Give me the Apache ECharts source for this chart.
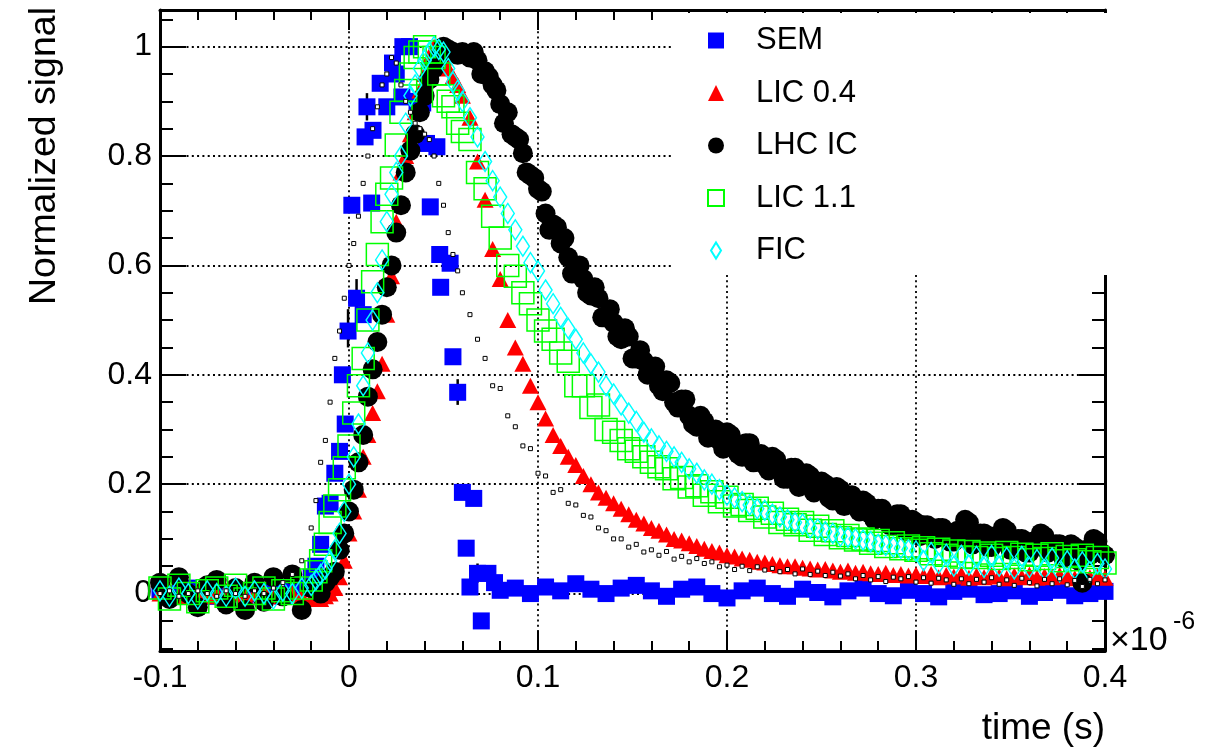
<!DOCTYPE html>
<html><head><meta charset="utf-8">
<script src="https://cdn.jsdelivr.net/npm/echarts@6/dist/echarts.min.js"></script>
<style>html,body{margin:0;padding:0;background:#fff}#c{width:1217px;height:750px}</style>
</head><body><div id="c"></div>
<script>
// shared sampling times (units of 1e-6 s)
const time = [
-0.1,-0.095,-0.09,-0.085,-0.08,-0.075,-0.07,-0.065,-0.06,-0.055,-0.05,-0.045,-0.04,-0.035,-0.03,-0.025,-0.02,
-0.0175,-0.015,-0.0125,-0.01,-0.0075,-0.005,-0.0025,0,0.0025,0.005,0.0075,0.01,0.0125,0.015,0.0175,0.02,
0.0225,0.025,0.0275,0.03,0.0325,0.035,0.0375,0.04,0.0425,0.045,0.0475,0.05,0.0525,0.055,0.0575,0.06,
0.064,0.068,0.072,0.076,0.08,0.084,0.088,0.092,0.096,0.1,
0.104,0.108,0.112,0.116,0.12,0.124,0.128,0.132,0.136,0.14,
0.144,0.148,0.152,0.156,0.16,0.164,0.168,0.172,0.176,0.18,
0.184,0.188,0.192,0.196,0.2,0.204,0.208,0.212,0.216,0.22,
0.224,0.228,0.232,0.236,0.24,0.244,0.248,0.252,0.256,0.26,
0.264,0.268,0.272,0.276,0.28,0.284,0.288,0.292,0.296,0.3,
0.304,0.308,0.312,0.316,0.32,0.324,0.328,0.332,0.336,0.34,
0.344,0.348,0.352,0.356,0.36,0.364,0.368,0.372,0.376,0.38,
0.384,0.388,0.392,0.396,0.4];

const lhcIC = [
0.02,-0.01,0.03,0.0,-0.025,0.015,0.025,-0.02,0.01,-0.03,0.02,-0.015,0.03,-0.005,0.035,-0.03,0.01,
0.01,0.0,0.02,0.03,0.04,0.08,0.11,0.15,0.19,0.24,0.29,0.36,0.41,0.46,0.51,0.56,
0.60,0.66,0.71,0.77,0.81,0.84,0.88,0.91,0.94,0.96,0.98,1.0,0.995,0.99,0.985,0.99,
0.98,0.975,0.955,0.93,0.895,0.88,0.835,0.805,0.765,0.74,
0.695,0.675,0.64,0.615,0.595,0.575,0.545,0.54,0.505,0.495,
0.465,0.47,0.43,0.425,0.41,0.38,0.39,0.35,0.355,0.325,
0.305,0.315,0.29,0.28,0.295,0.265,0.25,0.275,0.245,0.235,
0.25,0.225,0.21,0.23,0.2,0.215,0.195,0.2,0.17,0.19,
0.175,0.16,0.17,0.145,0.155,0.14,0.125,0.145,0.115,0.13,
0.125,0.105,0.12,0.11,0.095,0.115,0.13,0.095,0.11,0.085,
0.105,0.115,0.085,0.1,0.075,0.095,0.105,0.08,0.09,0.07,
0.085,0.02,0.07,0.095,0.07];

// extra LHC IC samples in between (denser acquisition in the decay)
const timeMid = [
0.066,0.07,0.074,0.078,0.082,0.086,0.09,0.094,0.098,0.102,
0.106,0.11,0.114,0.118,0.122,0.126,0.13,0.134,0.138,0.142,
0.146,0.15,0.154,0.158,0.162,0.166,0.17,0.174,0.178,0.182,
0.186,0.19,0.194,0.198,0.202,0.206,0.21,0.214,0.218,0.222,
0.226,0.23,0.234,0.238,0.242,0.246,0.25,0.254,0.258,0.262,
0.266,0.27,0.274,0.278,0.282,0.286,0.29,0.294,0.298,0.302,
0.306,0.31,0.314,0.318,0.322,0.326,0.33,0.334,0.338,0.342,
0.346,0.35,0.354,0.358,0.362,0.366,0.37,0.374,0.378,0.382,
0.386,0.39,0.394,0.398];
const lhcICMid = [
0.99,0.95,0.945,0.92,0.86,0.84,0.83,0.77,0.76,0.735,
0.665,0.67,0.65,0.585,0.6,0.55,0.56,0.505,0.52,0.47,
0.485,0.43,0.445,0.40,0.415,0.37,0.385,0.34,0.355,0.31,
0.325,0.285,0.30,0.265,0.29,0.255,0.275,0.24,0.255,0.225,
0.245,0.21,0.23,0.195,0.22,0.185,0.205,0.175,0.195,0.16,
0.18,0.15,0.165,0.135,0.155,0.125,0.145,0.115,0.135,0.105,
0.125,0.1,0.12,0.095,0.115,0.135,0.09,0.11,0.085,0.105,
0.12,0.08,0.1,0.075,0.095,0.11,0.075,0.09,0.065,0.09,
0.06,0.08,0.1,0.075];

const lic04 = [
0.0,0.005,-0.005,0.0,0.005,-0.005,0.0,0.005,0.0,-0.005,0.0,0.005,-0.005,0.0,0.0,-0.005,-0.01,
-0.005,-0.01,-0.005,0.0,0.01,0.03,0.06,0.11,0.15,0.19,0.25,0.29,0.33,0.37,0.42,0.51,
0.58,0.68,0.77,0.80,0.84,0.88,0.92,0.95,0.98,1.0,0.99,0.98,0.96,0.945,0.93,0.91,
0.87,0.79,0.72,0.63,0.575,0.50,0.45,0.42,0.38,0.35,
0.32,0.29,0.27,0.25,0.235,0.215,0.20,0.185,0.175,0.165,
0.155,0.145,0.135,0.128,0.12,0.115,0.108,0.10,0.097,0.092,
0.087,0.082,0.078,0.075,0.07,0.068,0.064,0.062,0.058,0.057,
0.054,0.052,0.05,0.05,0.047,0.046,0.044,0.045,0.042,0.04,
0.042,0.038,0.04,0.037,0.036,0.038,0.034,0.036,0.033,0.035,
0.032,0.036,0.03,0.034,0.031,0.035,0.029,0.033,0.03,0.034,
0.031,0.028,0.033,0.03,0.035,0.029,0.032,0.03,0.034,0.031,
0.028,0.033,0.03,0.032,0.029];

const lic11 = [
0.01,-0.01,0.015,0.0,-0.015,0.005,0.01,-0.005,0.015,-0.01,0.0,0.01,-0.01,0.005,0.0,0.01,0.025,
0.04,0.06,0.09,0.13,0.16,0.19,0.23,0.27,0.33,0.38,0.43,0.50,0.57,0.62,0.68,0.73,
0.76,0.82,0.88,0.92,0.95,0.98,0.99,1.0,0.99,0.98,0.95,0.91,0.90,0.89,0.86,0.845,
0.83,0.77,0.74,0.69,0.65,0.60,0.58,0.55,0.53,0.50,
0.48,0.465,0.44,0.425,0.38,0.38,0.34,0.345,0.30,0.295,
0.28,0.265,0.26,0.25,0.24,0.232,0.228,0.21,0.212,0.195,
0.197,0.18,0.186,0.168,0.176,0.16,0.163,0.152,0.156,0.14,
0.147,0.13,0.136,0.126,0.13,0.116,0.123,0.108,0.115,0.102,
0.106,0.098,0.1,0.092,0.097,0.086,0.093,0.082,0.087,0.079,
0.084,0.073,0.081,0.07,0.078,0.067,0.077,0.066,0.074,0.07,
0.064,0.075,0.066,0.072,0.062,0.07,0.064,0.073,0.06,0.068,
0.062,0.07,0.058,0.066,0.056];

const fic = [
0.005,-0.005,0.01,0.0,-0.01,0.005,0.0,-0.005,0.01,-0.005,0.005,0.0,-0.01,0.005,0.0,0.01,0.015,
0.025,0.035,0.045,0.06,0.08,0.11,0.15,0.20,0.25,0.31,0.38,0.44,0.50,0.55,0.61,0.68,
0.73,0.77,0.80,0.86,0.91,0.93,0.96,0.975,0.99,1.0,0.995,0.99,0.96,0.935,0.92,0.90,
0.87,0.835,0.79,0.755,0.725,0.695,0.665,0.635,0.605,0.59,
0.555,0.53,0.505,0.485,0.465,0.44,0.42,0.405,0.38,0.365,
0.345,0.33,0.315,0.295,0.283,0.27,0.26,0.25,0.24,0.228,
0.22,0.208,0.20,0.19,0.18,0.175,0.168,0.162,0.155,0.152,
0.145,0.14,0.135,0.13,0.127,0.12,0.118,0.113,0.11,0.105,
0.103,0.10,0.098,0.095,0.09,0.088,0.085,0.083,0.08,0.078,
0.06,0.075,0.055,0.072,0.05,0.07,0.052,0.068,0.048,0.07,
0.05,0.066,0.045,0.068,0.048,0.062,0.044,0.065,0.04,0.06,
0.045,0.058,0.04,0.055,0.045];

// unlabelled fast reference trace (small open squares)
const refTrace = [
0.0,0.005,-0.005,0.0,0.005,0.0,-0.005,0.005,0.0,-0.005,0.005,0.0,0.01,0.02,0.035,0.06,0.12,
0.17,0.24,0.28,0.35,0.43,0.48,0.54,0.60,0.64,0.69,0.75,0.80,0.85,0.89,0.93,0.95,
0.98,0.97,0.93,0.90,0.88,0.86,0.85,0.84,0.83,0.80,0.75,0.71,0.66,0.62,0.59,0.55,
0.51,0.465,0.43,0.38,0.375,0.325,0.305,0.27,0.265,0.22,
0.215,0.185,0.19,0.165,0.162,0.143,0.14,0.12,0.115,0.1,
0.1,0.085,0.09,0.076,0.08,0.07,0.077,0.063,0.068,0.058,
0.064,0.055,0.058,0.049,0.052,0.044,0.05,0.042,0.049,0.043,
0.046,0.04,0.044,0.036,0.045,0.035,0.041,0.033,0.039,0.032,
0.036,0.027,0.033,0.025,0.031,0.022,0.03,0.027,0.031,0.021,
0.029,0.019,0.028,0.025,0.017,0.027,0.018,0.026,0.021,0.029,
0.017,0.025,0.015,0.028,0.02,0.014,0.026,0.018,0.027,0.016,
0.024,0.013,0.026,0.018,0.025];

// SEM has its own sampling
const semTime = [
-0.1,-0.095,-0.09,-0.085,-0.08,-0.075,-0.07,-0.065,-0.06,-0.055,-0.05,-0.045,-0.04,-0.035,-0.03,-0.025,-0.02,
-0.0175,-0.015,-0.0125,-0.01,-0.0075,-0.005,-0.0035,-0.002,-0.0005,0.0015,0.004,0.0075,0.0085,0.0095,
0.012,0.0127,0.0165,0.02,0.023,0.025,0.028,0.0285,0.032,0.036,0.039,0.041,0.043,0.0465,0.048,0.0485,
0.0535,0.055,0.0575,0.06,0.062,0.064,0.066,0.068,0.07,0.0735,0.077,0.08,
0.088,0.096,0.104,0.112,0.12,0.128,0.136,0.144,0.152,0.16,0.168,0.176,0.184,0.192,0.2,0.208,0.216,0.224,0.232,0.24,
0.248,0.256,0.264,0.272,0.28,0.288,0.296,0.304,0.312,0.32,0.328,0.336,0.344,0.352,0.36,0.368,0.376,0.384,0.392,0.4];
const semValue = [
0.005,0.0,-0.005,0.01,0.0,-0.005,0.005,0.0,0.005,-0.005,0.0,0.005,0.0,-0.005,0.005,0.01,0.03,
0.05,0.09,0.16,0.165,0.22,0.26,0.40,0.31,0.48,0.71,0.54,0.51,0.835,0.89,
0.714,0.847,0.933,0.89,0.97,0.95,0.908,1.0,1.0,0.90,0.897,0.823,0.707,0.817,0.62,0.56,
0.604,0.433,0.368,0.185,0.083,0.012,0.174,0.037,-0.05,0.037,0.02,0.006,
0.01,0.0,0.012,0.005,0.018,0.008,0.0,0.01,0.015,0.005,-0.005,0.008,0.012,0.0,-0.008,0.005,0.01,0.0,-0.005,0.008,
0.002,-0.006,0.005,0.01,0.0,-0.004,0.006,0.0,-0.006,0.004,0.008,-0.002,0.0,0.005,-0.005,0.002,0.006,-0.004,0.0,0.004];
// SEM vertical error bars: [time, low, high]
const semErr = [[-0.0005, 0.45, 0.52], [0.004, 0.50, 0.575], [0.0095, 0.865, 0.915], [0.0575, 0.345, 0.392], [0.068, 0.02, 0.055]];

const legendNames = ['SEM', 'LIC 0.4', 'LHC IC', 'LIC 1.1', 'FIC'];
const xTitle = 'time (s)';
const yTitle = 'Normalized signal';

const F = "'Liberation Sans', Arial, Helvetica, sans-serif";
const pairs = (t, v) => t.map((x, i) => [x, v[i]]);

const chart = echarts.init(document.getElementById('c'), null, {renderer: 'canvas'});

const xCommon = {
  type: 'value', min: -0.1, max: 0.4, splitNumber: 5,
  axisLine: {show: true, onZero: false, lineStyle: {color: '#000', width: 3}},
  axisTick: {show: true, inside: true, length: 20, lineStyle: {color: '#000', width: 2}},
  minorTick: {show: true, splitNumber: 5, length: 10, lineStyle: {color: '#000', width: 2}},
};
const yCommon = {
  type: 'value', min: -0.105, max: 1.067, splitNumber: 5,
  axisLine: {show: true, onZero: false, lineStyle: {color: '#000', width: 3}},
  axisTick: {show: true, inside: true, length: 26, lineStyle: {color: '#000', width: 2}},
  minorTick: {show: true, splitNumber: 4, length: 13, lineStyle: {color: '#000', width: 2}},
};
const gridLine = {show: true, lineStyle: {color: '#000', width: 1.8, type: [2, 3.3]}};

chart.setOption({
  animation: false,
  backgroundColor: '#fff',
  grid: {left: 160, right: 112, top: 10, bottom: 99, containLabel: false},
  xAxis: [
    Object.assign({}, xCommon, {
      position: 'bottom',
      name: xTitle, nameLocation: 'end', nameGap: 0,
      nameTextStyle: {fontFamily: F, fontSize: 37, color: '#000', align: 'right', verticalAlign: 'top', padding: [59, 0, 0, 0]},
      axisLabel: {show: true, fontFamily: F, fontSize: 32, color: '#000', margin: 11},
      splitLine: gridLine
    }),
    Object.assign({}, xCommon, {position: 'top', axisLabel: {show: false}, splitLine: {show: false}})
  ],
  yAxis: [
    Object.assign({}, yCommon, {
      position: 'left',
      name: yTitle, nameLocation: 'end', nameGap: 3, nameRotate: 90,
      nameTextStyle: {fontFamily: F, fontSize: 37.5, color: '#000', align: 'right', verticalAlign: 'bottom', padding: [0, 0, 96, 0]},
      axisLabel: {show: true, fontFamily: F, fontSize: 32, color: '#000', margin: 8, showMinLabel: false, showMaxLabel: false},
      splitLine: gridLine
    }),
    Object.assign({}, yCommon, {position: 'right', axisLabel: {show: false}, splitLine: {show: false}})
  ],
  legend: {
    orient: 'vertical', left: 673, top: 13,
    padding: [12, 250, 9, 34],
    backgroundColor: '#fff',
    itemWidth: 16, itemHeight: 16, itemGap: 21.5,
    selectedMode: false,
    textStyle: {fontFamily: F, fontSize: 31, color: '#000', lineHeight: 30, padding: [0, 0, 0, 27]},
    data: [
      {name: legendNames[0]}, {name: legendNames[1]}, {name: legendNames[2]}, {name: legendNames[3]},
      {name: legendNames[4], icon: 'path://M5,0L10,8L5,16L0,8Z'}
    ]
  },
  graphic: [
    {type: 'text', x: 1110, y: 641, style: {text: '×10', font: "34px 'Liberation Sans', Arial, sans-serif", fill: '#000', align: 'left', verticalAlign: 'middle'}},
    {type: 'text', x: 1173, y: 622, style: {text: '-6', font: "25px 'Liberation Sans', Arial, sans-serif", fill: '#000', align: 'left', verticalAlign: 'middle'}}
  ],
  series: [
    {name: legendNames[0], type: 'scatter', symbol: 'rect', symbolSize: 17,
     itemStyle: {color: '#0000ff', opacity: 1}, emphasis: {disabled: true}, data: pairs(semTime, semValue)},
    {name: 'SEM error', type: 'custom', data: semErr, silent: true,
     renderItem: function (params, api) {
       const p1 = api.coord([api.value(0), api.value(1)]);
       const p2 = api.coord([api.value(0), api.value(2)]);
       return {type: 'line', shape: {x1: p1[0], y1: p1[1], x2: p2[0], y2: p2[1]}, style: {stroke: '#000', lineWidth: 2.5}};
     }},
    {name: legendNames[1], type: 'scatter', symbol: 'triangle', symbolSize: [17, 16],
     itemStyle: {color: '#ff0000', opacity: 1}, emphasis: {disabled: true}, data: pairs(time, lic04)},
    {name: legendNames[2], type: 'scatter', symbol: 'circle', symbolSize: 20,
     itemStyle: {color: '#000000', opacity: 1}, emphasis: {disabled: true},
     data: pairs(time, lhcIC).concat(pairs(timeMid, lhcICMid))},
    {name: legendNames[3], type: 'scatter', symbol: 'rect', symbolSize: 22,
     itemStyle: {color: 'rgba(0,0,0,0)', borderColor: '#00ff00', borderWidth: 1.5, opacity: 1}, emphasis: {disabled: true}, data: pairs(time, lic11)},
    {name: legendNames[4], type: 'scatter', symbol: 'diamond', symbolSize: [13, 20],
     itemStyle: {color: 'rgba(0,0,0,0)', borderColor: '#00ffff', borderWidth: 1.5, opacity: 1}, emphasis: {disabled: true}, data: pairs(time, fic)},
    {name: 'reference', type: 'scatter', symbol: 'rect', symbolSize: 4,
     itemStyle: {color: '#ffffff', borderColor: '#000000', borderWidth: 1, opacity: 1}, emphasis: {disabled: true}, data: pairs(time, refTrace)}
  ]
});
</script>
</body></html>
